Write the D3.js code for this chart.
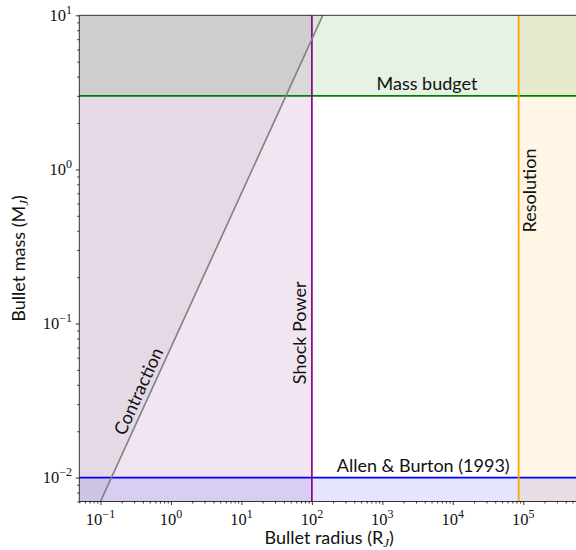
<!DOCTYPE html>
<html>
<head>
<meta charset="utf-8">
<script src="https://cdn.jsdelivr.net/npm/d3@7/dist/d3.min.js"></script>
<style>
  html, body { margin: 0; padding: 0; background: #fff; }
  svg { display: block; }
  .lbl { font-family: Lato, "Noto Sans", sans-serif; fill: #111; }
  .tick-lbl { font-family: "Liberation Serif", "DejaVu Serif", serif; fill: #111; }
</style>
</head>
<body>
<svg id="chart" width="576" height="550"></svg>
<script>
// Axis limits (bullet radius in R_J, bullet mass in M_J)
const xDomain = [0.05, 6e5];
const yDomain = [0.007, 10];

// Decade tick exponents
const xTickExponents = [-1, 0, 1, 2, 3, 4, 5];
const yTickExponents = [-2, -1, 0, 1];

// Constraint boundaries
const massBudget = 3;            // M_J, upper limit on bullet mass
const allenBurtonMass = 0.01;    // M_J, Allen & Burton (1993)
const shockPowerRadius = 100;    // R_J
const resolutionRadius = 8.6e4;  // R_J

// Contraction limit, a straight line in log-log space
const contractionRadius = [0.05, 200];
const contractionMass = [0.0035, 14];

const svg = d3.select("#chart");
const x = d3.scaleLog().domain(xDomain).range([79.3, 578.1]);
const y = d3.scaleLog().domain(yDomain).range([501.5, 15.3]);

const [x0, x1] = x.range();
const [y0, y1] = y.range();

svg.append("defs").append("clipPath").attr("id", "plot-clip")
  .append("rect").attr("x", x0).attr("y", y1).attr("width", x1 - x0).attr("height", y0 - y1);

const plot = svg.append("g").attr("clip-path", "url(#plot-clip)");

// Shaded excluded regions
plot.append("rect")  // above the mass budget
  .attr("x", x0).attr("y", y1).attr("width", x1 - x0).attr("height", y(massBudget) - y1)
  .attr("fill", "green").attr("fill-opacity", 0.1);
plot.append("rect")  // below Allen & Burton
  .attr("x", x0).attr("y", y(allenBurtonMass)).attr("width", x1 - x0).attr("height", y0 - y(allenBurtonMass))
  .attr("fill", "blue").attr("fill-opacity", 0.1);
plot.append("rect")  // smaller than the shock-power limit
  .attr("x", x0).attr("y", y1).attr("width", x(shockPowerRadius) - x0).attr("height", y0 - y1)
  .attr("fill", "purple").attr("fill-opacity", 0.1);
plot.append("rect")  // beyond the resolution limit
  .attr("x", x(resolutionRadius)).attr("y", y1).attr("width", x1 - x(resolutionRadius)).attr("height", y0 - y1)
  .attr("fill", "orange").attr("fill-opacity", 0.1);

// Region above the contraction line
const cPts = contractionRadius.map((r, i) => [x(r), y(contractionMass[i])]);
plot.append("path")
  .attr("d", d3.line()([cPts[0], cPts[1], [cPts[0][0], y1 - 50]]) + "Z")
  .attr("fill", "gray").attr("fill-opacity", 0.12);

// Boundary lines
plot.append("line")
  .attr("x1", x0).attr("x2", x1).attr("y1", y(massBudget)).attr("y2", y(massBudget))
  .attr("stroke", "green").attr("stroke-width", 1.7);
plot.append("line")
  .attr("x1", x0).attr("x2", x1).attr("y1", y(allenBurtonMass)).attr("y2", y(allenBurtonMass))
  .attr("stroke", "blue").attr("stroke-width", 1.8);
plot.append("line")
  .attr("x1", x(shockPowerRadius)).attr("x2", x(shockPowerRadius)).attr("y1", y0).attr("y2", y1)
  .attr("stroke", "#8b008b").attr("stroke-width", 1.7);
plot.append("line")
  .attr("x1", x(resolutionRadius)).attr("x2", x(resolutionRadius)).attr("y1", y0).attr("y2", y1)
  .attr("stroke", "orange").attr("stroke-width", 1.8);
plot.append("path")
  .attr("d", d3.line()(cPts))
  .attr("fill", "none").attr("stroke", "gray").attr("stroke-width", 1.6);

// Region labels
const fs = 18;
svg.append("text").attr("class", "lbl")
  .attr("x", x(4300)).attr("y", y(massBudget) - 6)
  .attr("text-anchor", "middle").attr("font-size", fs).text("Mass budget");
svg.append("text").attr("class", "lbl")
  .attr("x", x(3800)).attr("y", y(allenBurtonMass) - 6)
  .attr("text-anchor", "middle").attr("font-size", fs).text("Allen & Burton (1993)");
svg.append("text").attr("class", "lbl")
  .attr("transform", `translate(${x(shockPowerRadius) - 6},${y(0.087)}) rotate(-90)`)
  .attr("text-anchor", "middle").attr("font-size", fs).text("Shock Power");
svg.append("text").attr("class", "lbl")
  .attr("transform", `translate(${x(resolutionRadius) + 17},${y(0.73)}) rotate(-90)`)
  .attr("text-anchor", "middle").attr("font-size", fs).text("Resolution");

// Contraction label runs along the line
{
  const angle = Math.atan2(cPts[1][1] - cPts[0][1], cPts[1][0] - cPts[0][0]);
  const t = (Math.log10(0.484) - Math.log10(contractionRadius[0])) /
            (Math.log10(contractionRadius[1]) - Math.log10(contractionRadius[0]));
  const px = cPts[0][0] + t * (cPts[1][0] - cPts[0][0]);
  const py = cPts[0][1] + t * (cPts[1][1] - cPts[0][1]);
  const nx = Math.sin(angle), ny = -Math.cos(angle);
  const off = 5;
  svg.append("text").attr("class", "lbl")
    .attr("transform", `translate(${px + nx * off},${py + ny * off}) rotate(${angle * 180 / Math.PI})`)
    .attr("text-anchor", "middle").attr("font-size", fs).text("Contraction");
}

// Axes
const minorTicks = (dom) => {
  const out = [];
  const lo = Math.floor(Math.log10(dom[0])), hi = Math.ceil(Math.log10(dom[1]));
  for (let e = lo; e <= hi; e++) for (let m = 1; m <= 9; m++) {
    const v = m * Math.pow(10, e);
    if (v >= dom[0] * 0.9999 && v <= dom[1] * 1.0001 && m !== 1) out.push(v);
  }
  return out;
};

const xAxis = svg.append("g").attr("transform", `translate(0,${y0})`);
xAxis.call(d3.axisBottom(x).tickValues(minorTicks(xDomain)).tickSize(2).tickFormat(""));
xAxis.call(g => g.select(".domain").remove());
xAxis.append("g").call(d3.axisBottom(x).tickValues(xTickExponents.map(e => Math.pow(10, e))).tickSize(3.5).tickFormat(""))
  .call(g => g.select(".domain").remove());
xAxis.selectAll("line").attr("stroke", "#000").attr("stroke-width", 0.8);

const yAxis = svg.append("g").attr("transform", `translate(${x0},0)`);
yAxis.call(d3.axisLeft(y).tickValues(minorTicks(yDomain)).tickSize(2).tickFormat(""));
yAxis.call(g => g.select(".domain").remove());
yAxis.append("g").call(d3.axisLeft(y).tickValues(yTickExponents.map(e => Math.pow(10, e))).tickSize(3.5).tickFormat(""))
  .call(g => g.select(".domain").remove());
yAxis.selectAll("line").attr("stroke", "#000").attr("stroke-width", 0.8);

// Decade tick labels in 10^n form
const powLabel = (sel, e) => {
  sel.append("tspan").text("10");
  sel.append("tspan").attr("dy", -7).attr("font-size", 12)
    .text(e < 0 ? "\u2212" + (-e) : String(e));
};
xTickExponents.forEach(e => {
  const t = svg.append("text").attr("class", "tick-lbl")
    .attr("x", x(Math.pow(10, e))).attr("y", 524.5)
    .attr("font-size", 16.5).attr("text-anchor", "middle");
  powLabel(t, e);
});
yTickExponents.forEach(e => {
  const t = svg.append("text").attr("class", "tick-lbl")
    .attr("x", 72).attr("y", y(Math.pow(10, e)) + 5.5)
    .attr("font-size", 16.5).attr("text-anchor", "end");
  powLabel(t, e);
});

// Spines
svg.append("path")
  .attr("d", `M${x1},${y1}H${x0}V${y0}H${x1}`)
  .attr("fill", "none").attr("stroke", "#000").attr("stroke-width", 0.8);

// Axis titles
const xt = svg.append("text").attr("class", "lbl")
  .attr("x", (x0 + 576) / 2 + 1.5).attr("y", 544).attr("text-anchor", "middle").attr("font-size", fs);
xt.append("tspan").text("Bullet radius (R");
xt.append("tspan").attr("dy", 3).attr("font-size", 13).attr("font-style", "italic")
  .attr("font-family", "Liberation Serif, serif").text("J");
xt.append("tspan").attr("dy", -3).text(")");

const yt = svg.append("text").attr("class", "lbl")
  .attr("transform", `translate(25,${(y0 + y1) / 2}) rotate(-90)`)
  .attr("text-anchor", "middle").attr("font-size", fs);
yt.append("tspan").text("Bullet mass (M");
yt.append("tspan").attr("dy", 3).attr("font-size", 13).attr("font-style", "italic")
  .attr("font-family", "Liberation Serif, serif").text("J");
yt.append("tspan").attr("dy", -3).text(")");
</script>
</body>
</html>
